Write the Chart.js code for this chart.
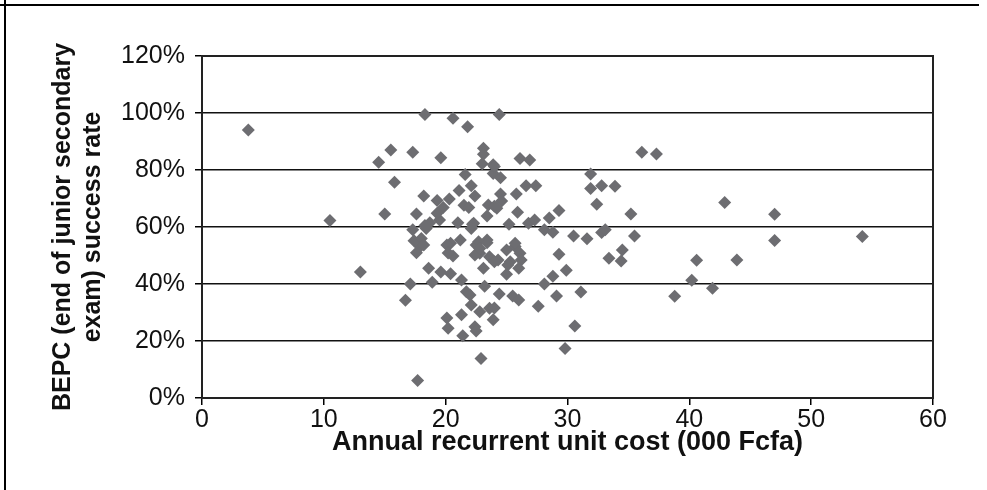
<!DOCTYPE html>
<html>
<head>
<meta charset="utf-8">
<script src="https://cdn.jsdelivr.net/npm/chart.js@4/dist/chart.umd.min.js"></script>
<style>
  body { margin: 0; background: #fff; }
  #wrap { width: 987px; height: 490px; position: relative; }
</style>
</head>
<body>
<div id="wrap"><canvas id="myChart" width="987" height="490"></canvas></div>
<script>
'use strict';

// DATA
var xTitle = 'Annual recurrent unit cost (000 Fcfa)';
var yTitle = ['BEPC (end of junior secondary', 'exam) success rate'];
var xTicks = [0, 10, 20, 30, 40, 50, 60];
var yTicks = [0, 20, 40, 60, 80, 100, 120];

// unit cost (000 Fcfa)
var unitCost = [
  3.8, 10.5, 13.0, 14.5, 15.5, 15.8, 15.0, 16.7, 17.1, 17.3,
  17.6, 17.3, 17.4, 18.0, 17.9, 17.6, 17.7, 18.3, 18.2, 18.4,
  18.7, 18.3, 18.2, 18.6, 18.9, 19.5, 19.3, 19.8, 19.3, 19.6,
  19.6, 20.3, 20.4, 20.1, 20.6, 20.2, 20.4, 20.1, 20.2, 20.6,
  21.2, 21.1, 21.0, 21.3, 21.3, 21.4, 21.6, 21.5, 21.9, 21.8,
  21.7, 22.1, 22.4, 22.1, 22.3, 22.2, 22.5, 22.7, 22.8, 22.4,
  22.8, 22.0, 22.1, 22.4, 22.5, 22.8, 22.9, 23.1, 23.1, 23.0,
  23.9, 23.9, 24.0, 24.5, 23.4, 23.5, 24.0, 23.4, 23.4, 23.6,
  24.0, 23.1, 23.2, 23.6, 23.9, 24.4, 24.5, 24.6, 24.2, 24.0,
  24.3, 24.4, 25.0, 25.7, 26.1, 25.3, 26.2, 25.1, 25.0, 26.0,
  25.2, 25.9, 25.8, 25.7, 25.5, 26.0, 26.1, 26.9, 26.6, 27.4,
  26.8, 27.3, 27.6, 28.1, 28.8, 28.5, 29.3, 29.3, 29.9, 28.8,
  28.1, 29.1, 29.8, 30.6, 30.5, 31.6, 31.1, 31.9, 31.9, 32.8,
  33.9, 32.4, 32.8, 33.1, 33.4, 34.5, 34.4, 35.2, 35.5, 36.1,
  37.3, 38.8, 40.2, 40.6, 41.9, 42.9, 43.9, 47.0, 47.0, 54.2
];

// success rate (%)
var successRate = [
  94.0, 62.3, 44.2, 82.7, 87.0, 75.7, 64.6, 34.3, 40.0, 86.2,
  64.6, 59.0, 55.2, 56.0, 53.1, 51.0, 6.1, 99.5, 70.9, 59.5,
  61.5, 60.5, 53.7, 45.5, 40.6, 62.5, 69.3, 66.8, 64.8, 84.3,
  44.2, 69.8, 54.3, 53.7, 49.8, 50.9, 43.6, 28.1, 24.5, 98.2,
  55.4, 72.8, 61.5, 41.4, 29.2, 21.8, 78.4, 67.6, 66.8, 95.2,
  37.3, 74.5, 70.9, 59.5, 61.3, 61.0, 53.7, 54.8, 50.8, 50.2,
  52.5, 36.1, 32.6, 25.0, 23.5, 30.3, 13.9, 87.6, 85.5, 82.2,
  81.8, 78.8, 81.2, 77.3, 63.9, 67.7, 67.3, 55.4, 54.5, 49.6,
  47.8, 45.5, 39.2, 31.5, 27.5, 99.5, 71.6, 69.1, 66.6, 31.6,
  48.4, 36.5, 51.9, 53.2, 50.8, 47.8, 48.4, 46.7, 43.4, 45.5,
  61.0, 65.2, 71.6, 54.3, 35.8, 34.4, 84.0, 83.5, 74.5, 74.5,
  61.3, 62.5, 32.2, 59.0, 58.2, 63.2, 65.8, 50.4, 44.8, 42.7,
  40.0, 35.8, 17.4, 25.3, 56.8, 55.9, 37.2, 78.6, 73.5, 74.5,
  74.3, 68.0, 58.1, 59.0, 49.0, 51.9, 48.1, 64.6, 56.8, 86.2,
  85.6, 35.7, 41.3, 48.3, 38.5, 68.6, 48.4, 64.5, 55.3, 56.7
];

// BUILD POINTS
var points = [];
for (var i = 0; i < unitCost.length; i++) {
  points.push({ x: unitCost[i], y: successRate[i] });
}

// FRAME OF PLOT + PAGE LINES
var framePlugin = {
  id: 'frame',
  afterDatasetsDraw: function (chart) {
    var ctx = chart.ctx;
    var a = chart.chartArea;
    ctx.save();
    ctx.strokeStyle = '#222';
    ctx.lineWidth = 2;
    ctx.strokeRect(a.left, a.top, a.right - a.left, a.bottom - a.top);
    // page border, top + left
    ctx.strokeStyle = '#000';
    ctx.lineWidth = 2;
    ctx.beginPath();
    ctx.moveTo(0, 5);
    ctx.lineTo(979, 5);
    ctx.moveTo(5, 0);
    ctx.lineTo(5, 490);
    ctx.stroke();
    ctx.restore();
  }
};

var fam = 'Liberation Sans, Arial, sans-serif';
var tickFont = { family: fam, size: 25 };
var yTitleFont = { family: fam, size: 25, weight: 'bold', lineHeight: 1.2 };
var xTitleFont = { family: fam, size: 27, weight: 'bold', lineHeight: 1.2 };

var ctx = document.getElementById('myChart');
var myChart = new Chart(ctx, {
  type: 'scatter',
  data: {
    datasets: [{
      data: points,
      pointStyle: 'rectRot',
      pointRadius: 6.5,
      pointHoverRadius: 6.5,
      backgroundColor: '#6d6d71',
      borderColor: '#6d6d71',
      borderWidth: 0
    }]
  },
  options: {
    responsive: false,
    animation: false,
    events: [],
    layout: { padding: { left: 0, top: 56, right: 54, bottom: 0 } },
    plugins: { legend: { display: false }, tooltip: { enabled: false } },
    scales: {
      x: {
        type: 'linear',
        min: 0, max: 60,
        afterBuildTicks: function (s) { s.ticks = xTicks.map(function (v) { return { value: v }; }); },
        afterFit: function (s) { s.height = 92; },
        grid: { drawOnChartArea: false, drawTicks: true, tickLength: 7, color: '#000', lineWidth: 1.5 },
        border: { display: true, color: '#222', width: 2 },
        ticks: { color: '#111', font: tickFont, padding: 0, maxRotation: 0 },
        title: { display: true, text: xTitle, color: '#111', font: xTitleFont, padding: { top: 0, bottom: 31 } }
      },
      y: {
        type: 'linear',
        min: 0, max: 120,
        afterBuildTicks: function (s) { s.ticks = yTicks.map(function (v) { return { value: v }; }); },
        afterFit: function (s) { s.width = 202; },
        grid: { color: '#111', lineWidth: 1.5, drawTicks: true, tickLength: 7, tickColor: '#000' },
        border: { display: true, color: '#222', width: 2 },
        ticks: {
          color: '#111', font: tickFont, padding: 10,
          callback: function (v) { return v + '%'; }
        },
        title: { display: true, text: yTitle, color: '#111', font: yTitleFont, padding: { top: 48, bottom: 0 } }
      }
    }
  },
  plugins: [framePlugin]
});
</script>
</body>
</html>
